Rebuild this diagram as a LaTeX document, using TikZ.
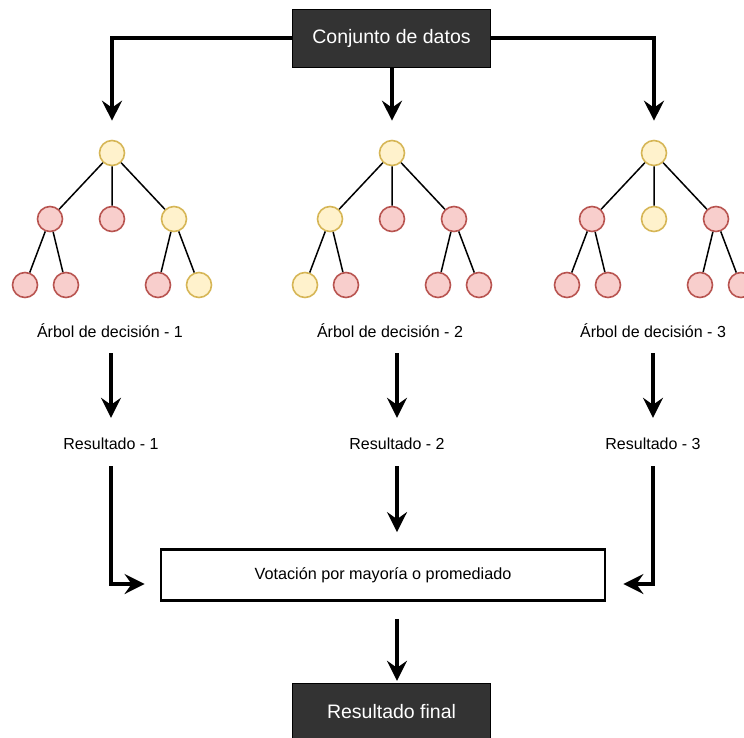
\documentclass[tikz,border=0pt]{standalone}
\usepackage{fontspec}
\setmainfont{Liberation Sans}
\usetikzlibrary{arrows.meta,calc}

\definecolor{boxgray}{HTML}{333333}
\definecolor{goldfill}{HTML}{FFF2CC}
\definecolor{golddraw}{HTML}{D6B656}
\definecolor{rosefill}{HTML}{F8CECC}
\definecolor{rosedraw}{HTML}{B85450}

\begin{document}
\begin{tikzpicture}[x=1pt,y=-1pt,
    >={Stealth[length=20pt,width=20pt,inset=7pt]},
    flow/.style={->,line width=3.2pt},
    databox/.style={draw=black,fill=boxgray,text=white,minimum width=198pt,
      minimum height=58pt,font=\fontsize{19.5}{23}\selectfont},
    votebox/.style={draw,line width=2.8pt,fill=white,minimum width=444pt,
      minimum height=51pt,font=\fontsize{16.2}{19}\selectfont},
    caption/.style={minimum height=44pt,inner sep=0pt,font=\fontsize{16}{19}\selectfont},
    leaf/.style={circle,minimum size=25pt,inner sep=0pt,line width=1.6pt},
    ynode/.style={leaf,draw=golddraw,fill=goldfill},
    rnode/.style={leaf,draw=rosedraw,fill=rosefill},
    branch/.style={line width=1.5pt}]
  \useasboundingbox (0,0) rectangle (744,738);

  \node[databox] (data) at (391.5,38) {Conjunto de datos};

  % three small trees: root, middle row, bottom row
  \foreach \t/\x/\a/\b/\c/\d/\e/\f/\g in {
      1/112/rnode/rnode/ynode/rnode/rnode/rnode/ynode,
      2/392/ynode/rnode/rnode/ynode/rnode/rnode/rnode,
      3/654/rnode/ynode/rnode/rnode/rnode/rnode/rnode}{
    \node[ynode] (t\t) at (\x,153) {};
    \node[\a] (t\t-a) at (\x-62,219) {};
    \node[\b] (t\t-b) at (\x,219) {};
    \node[\c] (t\t-c) at (\x+62,219) {};
    \node[\d] (t\t-d) at (\x-87,285) {};
    \node[\e] (t\t-e) at (\x-46,285) {};
    \node[\f] (t\t-f) at (\x+46,285) {};
    \node[\g] (t\t-g) at (\x+87,285) {};
    \draw[branch] (t\t)--(t\t-a) (t\t)--(t\t-b) (t\t)--(t\t-c)
      (t\t-a)--(t\t-d) (t\t-a)--(t\t-e) (t\t-c)--(t\t-f) (t\t-c)--(t\t-g);
  }

  \node[caption] (lab1) at (110,331) {Árbol de decisión - 1};
  \node[caption] (lab2) at (390,331) {Árbol de decisión - 2};
  \node[caption] (lab3) at (653,331) {Árbol de decisión - 3};
  \node[caption] (res1) at (111,444) {Resultado - 1};
  \node[caption] (res2) at (397,444) {Resultado - 2};
  \node[caption] (res3) at (653,444) {Resultado - 3};

  \node[votebox] (vote) at (383,575) {Votación por mayoría o promediado};
  \node[databox] (final) at (391.5,712) {Resultado final};

  % data set to each tree
  \draw[flow,shorten >=19pt] (data.west) -| (t1);
  \draw[flow,shorten >=19pt] (data.south -| t2) -- (t2);
  \draw[flow,shorten >=19pt] (data.east) -| (t3);

  % tree to its result
  \draw[flow,shorten >=4pt] (lab1.south -| res1) -- (res1);
  \draw[flow,shorten >=4pt] (lab2.south -| res2) -- (res2);
  \draw[flow,shorten >=4pt] (lab3.south -| res3) -- (res3);

  % results into the vote, then the final result
  \draw[flow,shorten >=15pt] (res1.south) |- ([yshift=-9pt]vote.west);
  \draw[flow,shorten >=16pt] (res2) -- (res2 |- vote.north);
  \draw[flow,shorten >=17pt] (res3.south) |- ([yshift=-9pt]vote.east);
  \draw[flow,shorten <=17pt,shorten >=2pt] (vote.south -| res2) -- (final.north -| res2);
\end{tikzpicture}
\end{document}
